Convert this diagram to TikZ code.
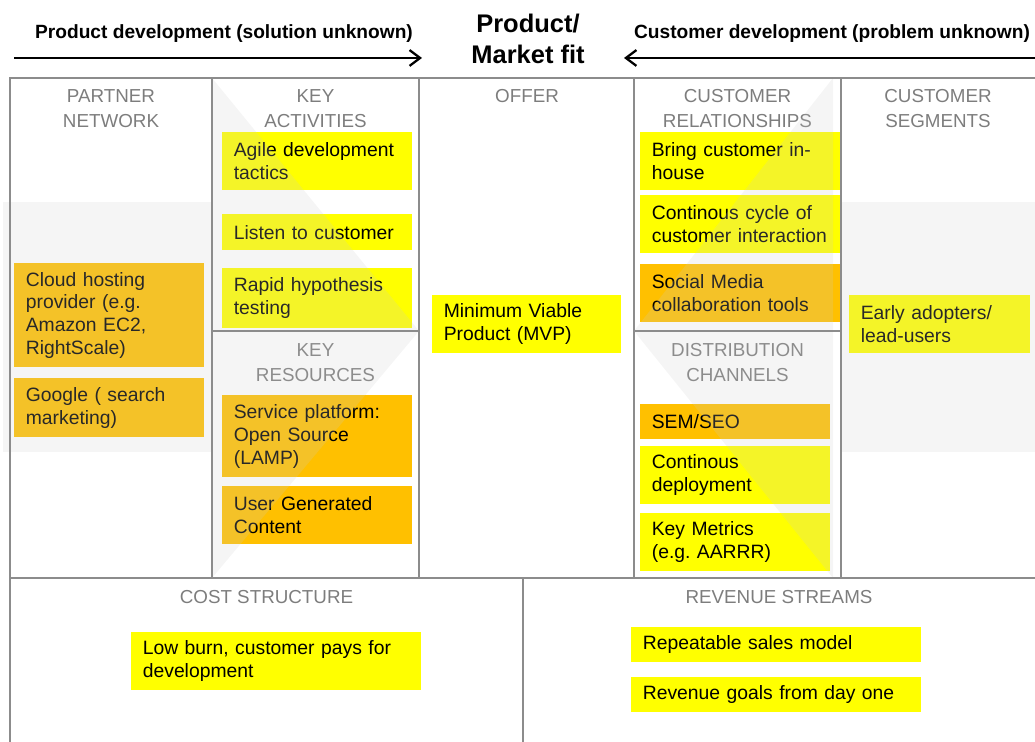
\documentclass[tikz,border=0pt]{standalone}
\usepackage{fontspec}
\setmainfont{Liberation Sans}
\usepackage{tikz}
\usetikzlibrary{arrows.meta}
\frenchspacing

\definecolor{framegray}{RGB}{140,140,140}
\definecolor{headgray}{RGB}{125,125,125}
\definecolor{cardyellow}{RGB}{255,255,0}
\definecolor{cardorange}{RGB}{255,192,0}
\definecolor{shadegray}{RGB}{204,204,204}

\newcommand{\cardfont}{\fontsize{11}{13}\selectfont}
\newcommand{\headfont}{\fontsize{10.7}{14.2}\selectfont}
\newcommand{\titlefont}{\fontsize{10.9}{13}\selectfont\bfseries}
\newcommand{\fitfont}{\fontsize{14.5}{18}\selectfont\bfseries}

\tikzset{
  card/.style 2 args={anchor=north west, inner xsep=0.23cm, inner ysep=0pt,
    text width=#1*0.02cm-0.46cm, minimum height=#2*0.02cm, align=left, font=\cardfont},
  ycard/.style 2 args={card={#1}{#2}, fill=cardyellow},
  ocard/.style 2 args={card={#1}{#2}, fill=cardorange},
  blockhead/.style={font=\headfont, text=headgray, align=center, inner sep=0pt},
  shade/.style={fill=shadegray, fill opacity=0.2},
  panel/.style={draw=framegray, line width=1.3pt},
  devarrow/.style={line width=1.3pt, -{Straight Barb[length=6pt,width=9pt]}},
}

\begin{document}
\begin{tikzpicture}[x=0.02cm, y=-0.02cm]
  \useasboundingbox (0,0) rectangle (1035,742);
  \clip (0,0) rectangle (1035,742);

  % headline and the two arrows
  \node[font=\titlefont] (pdtext) at (224,34) {Product development (solution unknown)};
  \node[font=\fitfont, align=center, inner sep=0pt] (fit) at (528,39) {Product/\\Market fit};
  \node[font=\titlefont] (cdtext) at (832,34) {Customer development (problem unknown)};
  \coordinate (pdstart) at (14,58);
  \coordinate (pdend) at (422,58);
  \coordinate (cdstart) at (1035,58);
  \coordinate (cdend) at (624,58);
  \draw[devarrow] (pdstart) -- (pdend);
  \draw[devarrow] (cdstart) -- (cdend);

  % block titles
  \node[blockhead] (partner) at (111,108.5) {PARTNER\\NETWORK};
  \node[blockhead] (activities) at (315.5,108.5) {KEY\\ACTIVITIES};
  \node[blockhead] (resources) at (315.5,363) {KEY\\RESOURCES};
  \node[blockhead] (offer) at (527,96) {OFFER};
  \node[blockhead] (relations) at (737.5,108.5) {CUSTOMER\\RELATIONSHIPS};
  \node[blockhead] (channels) at (737.5,363) {DISTRIBUTION\\CHANNELS};
  \node[blockhead] (segments) at (938,108.5) {CUSTOMER\\SEGMENTS};
  \node[blockhead] (cost) at (266.5,597) {COST STRUCTURE};
  \node[blockhead] (revenue) at (779,597) {REVENUE STREAMS};

  % partner network
  \node[ocard={190}{104}] (cloud) at (14,263) {Cloud hosting\\provider (e.g.\\Amazon EC2,\\RightScale)};
  \node[ocard={190}{59}] (google) at (14,378) {Google ( search\\marketing)};

  % key activities / resources
  \node[ycard={190}{58}] (agile) at (222,132) {Agile development\\tactics};
  \node[ycard={190}{36}] (listen) at (222,214) {Listen to customer};
  \node[ycard={190}{60}] (rapid) at (222,268) {Rapid hypothesis\\testing};
  \node[ocard={190}{82}] (platform) at (222,395) {Service platform:\\Open Source\\(LAMP)};
  \node[ocard={190}{58}] (ugc) at (222,486) {User Generated\\Content};

  % offer
  \node[ycard={189}{58}] (mvp) at (432,295) {Minimum Viable\\Product (MVP)};

  % customer relationships / channels
  \node[ycard={200}{58}] (inhouse) at (640,132) {Bring customer in-\\house};
  \node[ycard={200}{58}] (cycle) at (640,195) {Continous cycle of\\customer interaction};
  \node[ocard={200}{58}] (social) at (640,264) {Social Media\\collaboration tools};
  \node[ocard={190}{35}] (semseo) at (640,404) {SEM/SEO};
  \node[ycard={190}{58}] (deploy) at (640,446) {Continous\\deployment};
  \node[ycard={190}{58}] (metrics) at (640,513) {Key Metrics\\(e.g. AARRR)};

  % customer segments
  \node[ycard={181}{58}] (adopters) at (849,295) {Early adopters/\\lead-users};

  % cost and revenue
  \node[ycard={290}{58}] (lowburn) at (131,632) {Low burn, customer pays for\\development};
  \node[ycard={290}{35}] (repeat) at (631,627) {Repeatable sales model};
  \node[ycard={290}{35}] (goals) at (631,677) {Revenue goals from day one};

  % faint band and chevrons over everything
  \fill[shade] (3,202) rectangle (212,452);
  \fill[shade] (841,202) rectangle (1035,452);
  \fill[shade] (212,78) -- (212,578) -- (419,331) -- cycle;
  \fill[shade] (833,78) -- (833,578) -- (634,331) -- cycle;

  % canvas grid
  \draw[panel] (10,78) rectangle (1045,760);
  \draw[panel] (212,78) -- (212,578);
  \draw[panel] (419,78) -- (419,578);
  \draw[panel] (634,78) -- (634,578);
  \draw[panel] (841,78) -- (841,578);
  \draw[panel] (10,578) -- (1045,578);
  \draw[panel] (523,578) -- (523,760);
  \draw[panel] (212,331) -- (419,331);
  \draw[panel] (634,331) -- (841,331);
\end{tikzpicture}
\end{document}
